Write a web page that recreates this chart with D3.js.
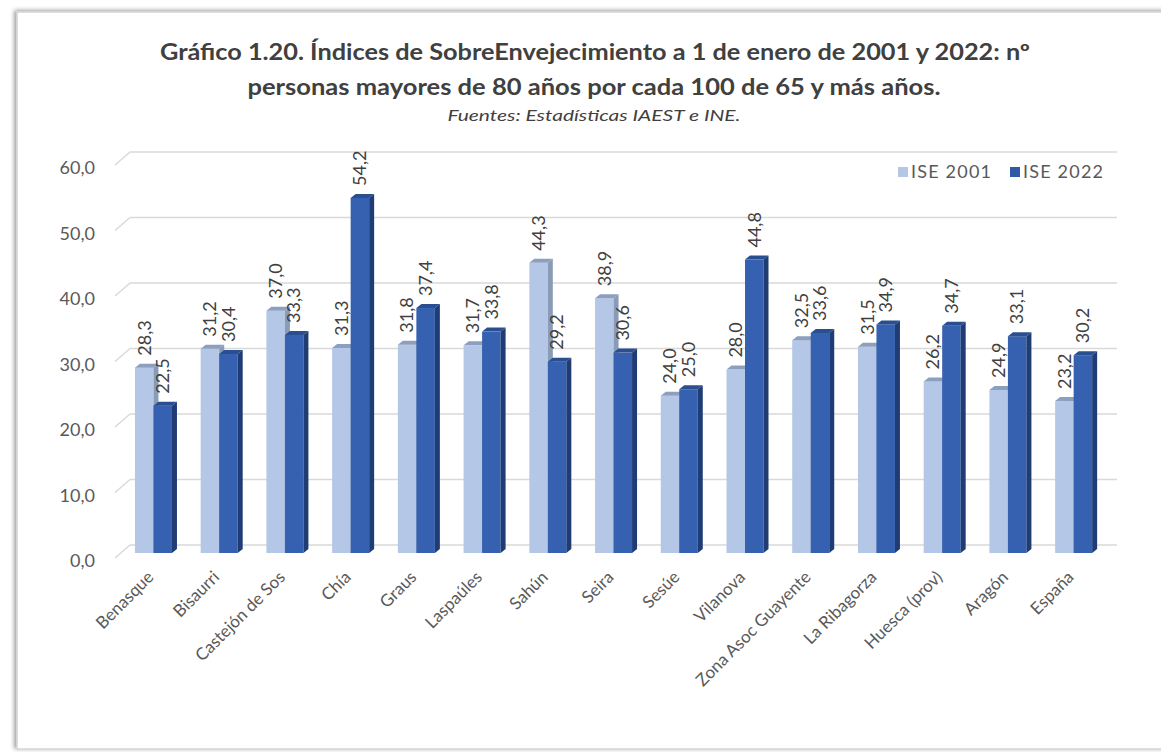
<!DOCTYPE html>
<html>
<head>
<meta charset="utf-8">
<script src="https://cdn.jsdelivr.net/npm/d3@7"></script>
<style>
  body { margin: 0; background: #fff; }
  text { font-family: Lato, "Open Sans", sans-serif; }
</style>
</head>
<body>
<script>
const categories = ["Benasque", "Bisaurri", "Castejón de Sos", "Chía", "Graus", "Laspaúles", "Sahún", "Seira", "Sesúe", "Vilanova", "Zona Asoc Guayente", "La Ribagorza", "Huesca (prov)", "Aragón", "España"];
const ise2001 = [28.3, 31.2, 37.0, 31.3, 31.8, 31.7, 44.3, 38.9, 24.0, 28.0, 32.5, 31.5, 26.2, 24.9, 23.2];
const ise2022 = [22.5, 30.4, 33.3, 54.2, 37.4, 33.8, 29.2, 30.6, 25.0, 44.8, 33.6, 34.9, 34.7, 33.1, 30.2];
const seriesNames = ["ISE 2001", "ISE 2022"];
const yTicks = [0, 10, 20, 30, 40, 50, 60];

const width = 1161, height = 752;
const svg = d3.select("body").append("svg")
    .attr("width", width)
    .attr("height", height);

// marco con sombra
const defs = svg.append("defs");
const f = defs.append("filter").attr("id", "sh").attr("x", "-5%").attr("y", "-5%").attr("width", "110%").attr("height", "110%");
f.append("feDropShadow").attr("dx", -2).attr("dy", -1).attr("stdDeviation", 2).attr("flood-color", "#000").attr("flood-opacity", 0.4);
svg.append("rect")
    .attr("x", 17).attr("y", 12)
    .attr("width", 1170).attr("height", 737)
    .attr("fill", "#fff")
    .attr("stroke", "#d4d4d4")
    .attr("stroke-width", 1.5)
    .attr("filter", "url(#sh)");

// titulo
svg.append("text").attr("x", 595).attr("y", 60)
    .attr("text-anchor", "middle").attr("font-weight", "bold").attr("font-size", 22)
    .attr("fill", "#404040")
    .attr("textLength", 870).attr("lengthAdjust", "spacingAndGlyphs")
    .text("Gráfico 1.20. Índices de SobreEnvejecimiento a 1 de enero de 2001 y 2022: nº");
svg.append("text").attr("x", 594).attr("y", 95)
    .attr("text-anchor", "middle").attr("font-weight", "bold").attr("font-size", 22)
    .attr("fill", "#404040")
    .attr("textLength", 693).attr("lengthAdjust", "spacingAndGlyphs")
    .text("personas mayores de 80 años por cada 100 de 65 y más años.");
svg.append("text").attr("x", 594).attr("y", 121)
    .attr("text-anchor", "middle").attr("font-style", "italic").attr("font-size", 16)
    .attr("fill", "#404040")
    .attr("textLength", 293).attr("lengthAdjust", "spacingAndGlyphs")
    .text("Fuentes: Estadísticas IAEST e INE.");

// escalas
const x0 = d3.scaleBand().domain(categories).range([120.6, 1106.5])
    .paddingInner(0.437).paddingOuter(0.2185);
const x1 = d3.scaleBand().domain(seriesNames).range([0, x0.bandwidth()]);
const y = d3.scaleLinear().domain([0, 60]).range([553, 160]);

const back = {dx: 0, dy: -8};

// rejilla (pared del fondo)
const grid = svg.append("g");
yTicks.forEach(t => {
    const yb = y(t) + back.dy;
    grid.append("line")
        .attr("x1", 130).attr("x2", 1117)
        .attr("y1", yb).attr("y2", yb)
        .attr("stroke", "#d9d9d9").attr("stroke-width", 1.5);
    grid.append("line")
        .attr("x1", 115).attr("y1", yb + 13)
        .attr("x2", 130).attr("y2", yb)
        .attr("stroke", "#d9d9d9").attr("stroke-width", 1.5);
    grid.append("text")
        .attr("x", 95).attr("y", yb + 16)
        .attr("dy", "0.35em")
        .attr("text-anchor", "end")
        .attr("font-size", 18)
        .attr("fill", "#595959")
        .text(d3.format(".1f")(t).replace(".", ","));
});

// barras 3D
const colors = {
    "ISE 2001": {front: "#b4c7e7", top: "#8d9fbe", side: "#8a9bb8", key: "#b4c7e7"},
    "ISE 2022": {front: "#3561b0", top: "#2a4f91", side: "#1f3c74", key: "#2f5aa8"}
};
const depth = {dx: 5, dy: -4};
const data = categories.map((c, i) => ({cat: c, vals: [
    {s: "ISE 2001", v: ise2001[i]},
    {s: "ISE 2022", v: ise2022[i]}
]}));

const bars = svg.append("g");
data.forEach(d => {
    d.vals.forEach(b => {
        const xl = x0(d.cat) + x1(b.s);
        const w = x1.bandwidth();
        const yt = y(b.v), yb = y(0);
        const c = colors[b.s];
        const g = bars.append("g");
        g.append("rect").attr("x", xl).attr("y", yt).attr("width", w).attr("height", yb - yt)
            .attr("fill", c.front);
        g.append("path")
            .attr("d", `M${xl},${yt} L${xl + depth.dx},${yt + depth.dy} L${xl + w + depth.dx},${yt + depth.dy} L${xl + w},${yt} Z`)
            .attr("fill", c.top);
        g.append("path")
            .attr("d", `M${xl + w},${yt} L${xl + w + depth.dx},${yt + depth.dy} L${xl + w + depth.dx},${yb + depth.dy} L${xl + w},${yb} Z`)
            .attr("fill", c.side);
    });
});

// etiquetas de datos
const lbl = svg.append("g");
data.forEach(d => {
    d.vals.forEach(b => {
        const cx = x0(d.cat) + x1(b.s) + x1.bandwidth() / 2;
        const yt = y(b.v) - 12;
        lbl.append("text")
            .attr("transform", `translate(${cx},${yt}) rotate(-90)`)
            .attr("dy", "0.35em")
            .attr("font-size", 18)
            .attr("fill", "#404040")
            .text(d3.format(".1f")(b.v).replace(".", ","));
    });
});

// etiquetas eje x
const xl = svg.append("g");
categories.forEach(c => {
    const cx = x0(c) + x0.bandwidth() / 2;
    xl.append("text")
        .attr("transform", `translate(${cx - 3},${574}) rotate(-45)`)
        .attr("text-anchor", "end")
        .attr("dy", "0.35em")
        .attr("font-size", 17)
        .attr("fill", "#595959")
        .text(c);
});

// leyenda
const legend = svg.append("g");
const legX = [900, 1012];
seriesNames.forEach((s, i) => {
    legend.append("rect")
        .attr("x", legX[i] - 2).attr("y", 167)
        .attr("width", 10).attr("height", 10)
        .attr("fill", colors[s].key);
    legend.append("text")
        .attr("x", legX[i] + 11).attr("y", 172)
        .attr("dy", "0.35em")
        .attr("font-size", 18)
        .attr("fill", "#595959")
        .attr("textLength", 80).attr("lengthAdjust", "spacing")
        .text(s);
});
</script>
</body>
</html>
